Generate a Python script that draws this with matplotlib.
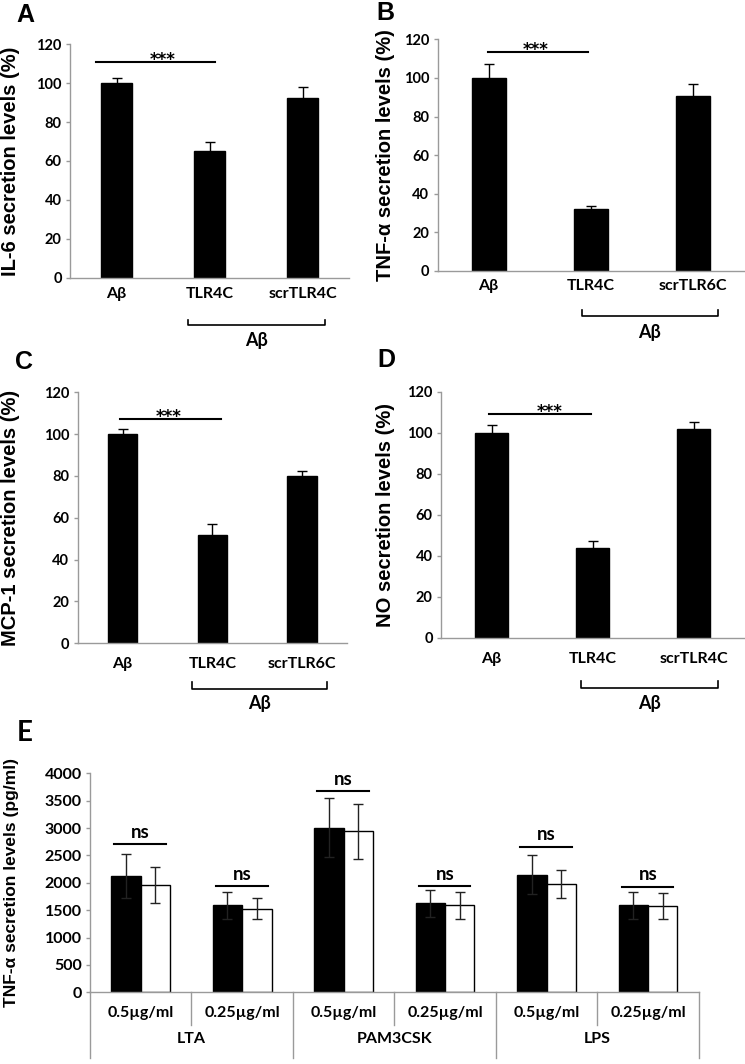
import matplotlib
matplotlib.use("Agg")
import matplotlib.pyplot as plt
import numpy as np

# ---- data ----
cats_a = ["Aβ", "TLR4C", "scrTLR4C"]
il6 = [100, 65, 92.5]
il6_err = [2.5, 5, 5.5]

cats_b = ["Aβ", "TLR4C", "scrTLR6C"]
tnf = [100, 32, 90.5]
tnf_err = [7, 1.5, 6.5]

cats_c = ["Aβ", "TLR4C", "scrTLR6C"]
mcp1 = [100, 52, 80]
mcp1_err = [2.4, 5, 2.6]

cats_d = ["Aβ", "TLR4C", "scrTLR4C"]
no = [100, 44, 102]
no_err = [4, 3.2, 3]

sig_abcd = [110.8, 113.4, 107.1, 109.1]

doses = ["0.5µg/ml", "0.25µg/ml"] * 3
agonists = ["LTA", "PAM3CSK", "LPS"]
e_black = [2130, 1590, 3005, 1625, 2145, 1590]
e_black_err = [400, 245, 535, 243, 355, 245]
e_white = [1960, 1530, 2940, 1590, 1975, 1575]
e_white_err = [330, 200, 505, 250, 250, 245]
ns_y = [2710, 1945, 3680, 1940, 2660, 1930]

W, H = 745, 1064
GRAY = "#9a9a9a"
TICKF = "Lato"
TW = "bold"
LABF = "Liberation Sans"

fig = plt.figure(figsize=(W / 100, H / 100), dpi=100)


def px_axes(left, right, top, bottom):
    return fig.add_axes([left / W, 1 - bottom / H, (right - left) / W, (bottom - top) / H])


def style(ax, ymax, ystep, pad, ysize):
    for s in ["top", "right"]:
        ax.spines[s].set_visible(False)
    for s in ["left", "bottom"]:
        ax.spines[s].set_color(GRAY)
        ax.spines[s].set_linewidth(1.0)
    ax.set_ylim(0, ymax)
    ax.set_yticks(np.arange(0, ymax + 1, ystep))
    ax.tick_params(axis="y", length=3, width=1, color=GRAY, pad=3)
    ax.tick_params(axis="x", length=0, pad=pad)
    for t in ax.get_yticklabels():
        t.set_fontfamily(TICKF)
        t.set_fontweight(TW)
        t.set_fontsize(ysize)


panels = [
    # letter, cats, vals, err, ylabel, axes px box, letter pos, bracket, xpad, sig, ylabel right edge
    ("A", cats_a, il6, il6_err, "IL-6 secretion levels (%)", (70, 349, 44.3, 277.7),
     (16, 15), (0.77, 2.24, -0.203, -0.181, -0.27), 7, (0.5, -0.22, 1.06), 20),
    ("B", cats_b, tnf, tnf_err, "TNF-α secretion levels (%)", (437.7, 743.7, 39.3, 271),
     (376, 13), (0.91, 2.25, -0.194, -0.168, -0.265), 6, (0.46, -0.01, 0.97), 395),
    ("C", cats_c, mcp1, mcp1_err, "MCP-1 secretion levels (%)", (77.7, 347, 392.3, 643.3),
     (15, 362), (0.77, 2.28, -0.182, -0.153, -0.24), 10, (0.51, -0.03, 1.1), 20),
    ("D", cats_d, no, no_err, "NO secretion levels (%)", (441, 744, 391.7, 637.7),
     (377, 360), (0.89, 2.24, -0.206, -0.175, -0.267), 10, (0.58, -0.02, 0.99), 395),
]

for i, (letter, cats, vals, err, ylab, box, lpos, br, xpad, sig, ylx) in enumerate(panels):
    ax = px_axes(*box)
    x = np.arange(len(cats))
    ax.bar(x, vals, width=0.33, color="black", edgecolor="black", zorder=2)
    ax.errorbar(x, vals, yerr=err, fmt="none", ecolor="black", elinewidth=1,
                capsize=3.5, capthick=1, zorder=3)
    ax.set_xlim(-0.5, 2.5)
    style(ax, 120, 20, xpad, 10.5)
    ax.set_xticks(x)
    ax.set_xticklabels(cats, fontfamily=TICKF, fontweight=TW, fontsize=11.5)
    # significance line with stars
    tx, sx0, sx1 = sig
    ax.plot([sx0, sx1], [sig_abcd[i], sig_abcd[i]], color="black", lw=1.5, zorder=3)
    ax.annotate("***", (tx, sig_abcd[i]), xytext=(0, -2.2), textcoords="offset points",
                ha="center", va="baseline", fontfamily="DejaVu Sans", fontweight="bold",
                fontsize=12)
    # bracket under TLR4C / scr
    bx0, bx1, by, bt, bl = br
    tr = ax.get_xaxis_transform()
    ax.plot([bx0, bx0, bx1, bx1], [bt, by, by, bt], color="black", lw=1.2,
            transform=tr, clip_on=False)
    ax.text((bx0 + bx1) / 2, bl, "Aβ", transform=tr, ha="center", va="center",
            fontfamily=TICKF, fontweight=TW, fontsize=13)
    # y label
    ax.set_ylabel(ylab, fontfamily=LABF, fontweight="bold", fontsize=14.5)
    ax.yaxis.set_label_coords((ylx - box[0]) / (box[1] - box[0]), 0.5)
    fig.text(lpos[0] / W, 1 - lpos[1] / H, letter, ha="left", va="center",
             fontfamily=LABF, fontweight="bold", fontsize=18)

# ---- panel E ----
ax = px_axes(90, 698.7, 773.3, 992.3)
xe = np.arange(len(doses))
ax.bar(xe - 0.145, e_black, width=0.29, color="black", edgecolor="black", lw=1, zorder=2)
ax.bar(xe + 0.145, e_white, width=0.29, color="white", edgecolor="black", lw=1, zorder=2)
ax.errorbar(xe - 0.145, e_black, yerr=e_black_err, fmt="none", ecolor="#222222",
            elinewidth=1, capsize=3.5, capthick=1, zorder=3)
ax.errorbar(xe + 0.145, e_white, yerr=e_white_err, fmt="none", ecolor="#222222",
            elinewidth=1, capsize=3.5, capthick=1, zorder=3)
ax.set_xlim(-0.5, len(doses) - 0.5)
style(ax, 4000, 500, 10, 11.5)
ax.set_xticks(xe)
ax.set_xticklabels(doses, fontfamily=TICKF, fontweight=TW, fontsize=11.5)
for xi, yy in zip(xe, ns_y):
    ax.plot([xi - 0.26, xi + 0.25], [yy, yy], color="black", lw=1.5, zorder=3)
    ax.annotate("ns", (xi, yy), xytext=(0, 4.5), textcoords="offset points",
                ha="center", va="baseline", fontfamily=TICKF, fontweight=TW, fontsize=13.5)

tr = ax.get_xaxis_transform()
for b in np.arange(-0.5, len(doses), 1.0):
    major = int(round(b + 0.5)) % 2 == 0
    ax.plot([b, b], [0, -0.30 if major else -0.149], color=GRAY, lw=1,
            transform=tr, clip_on=False)
for g, name in enumerate(agonists):
    ax.text(2 * g + 0.5, -0.215, name, transform=tr, ha="center", va="center",
            fontfamily=TICKF, fontweight=TW, fontsize=11.5)
ax.set_ylabel("TNF-α secretion levels (pg/ml)", fontfamily=LABF, fontweight="bold",
              fontsize=12.5)
ax.yaxis.set_label_coords((19 - 90) / (698.7 - 90), 0.5)
fig.text(17 / W, 1 - 733 / H, "E", ha="left", va="center",
         fontfamily=TICKF, fontweight=TW, fontsize=20)

fig.savefig("out.png", dpi=100)
